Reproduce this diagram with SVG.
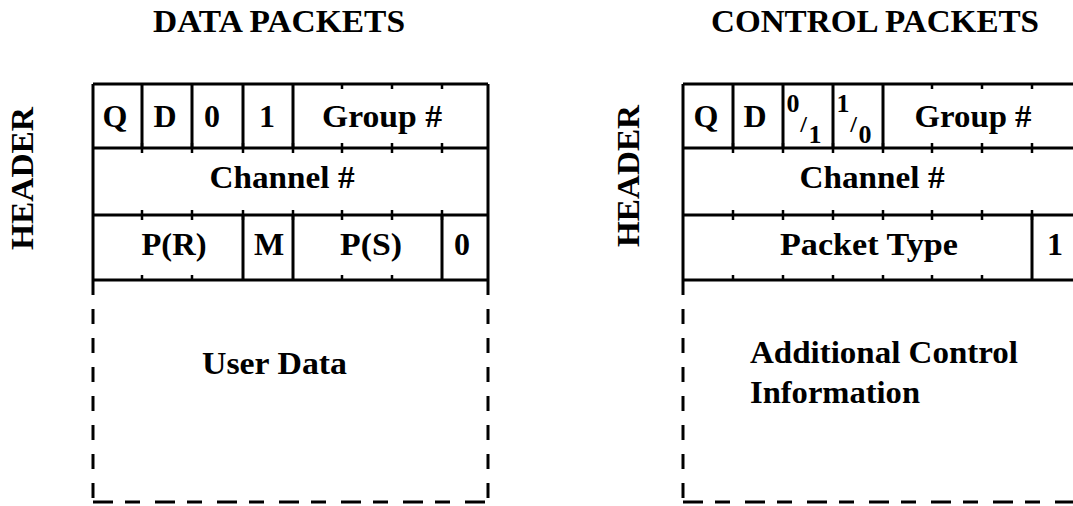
<svg xmlns="http://www.w3.org/2000/svg" width="1073" height="506" viewBox="0 0 1073 506">
<style>
.t{font-family:"Liberation Serif","Times New Roman",serif;font-weight:bold;fill:#000;}
.big{font-size:32px;}
.mid{text-anchor:middle;}
.fr{font-size:26px;text-anchor:middle;}
.sl{font-size:24px;}
.ln{stroke:#000;stroke-width:3;fill:none;}
.tk{stroke:#000;stroke-width:2.5;fill:none;}
.ds{stroke:#000;stroke-width:3;fill:none;stroke-dasharray:15 14;}
</style>
<rect width="1073" height="506" fill="#fff"/>

<g id="data-title">
<text class="t big mid" x="279" y="32" textLength="252" lengthAdjust="spacingAndGlyphs">DATA PACKETS</text>
</g>
<g id="control-title">
<text class="t big mid" x="875" y="32" textLength="328" lengthAdjust="spacingAndGlyphs">CONTROL PACKETS</text>
</g>
<g id="data-header-label">
<text class="t big mid" transform="translate(33,178.5) rotate(-90)" x="0" y="0" textLength="143" lengthAdjust="spacingAndGlyphs">HEADER</text>
</g>
<g id="control-header-label">
<text class="t big mid" transform="translate(639,176) rotate(-90)" x="0" y="0" textLength="142" lengthAdjust="spacingAndGlyphs">HEADER</text>
</g>

<g id="data-packet">
<path class="ln" d="M93,84H488M93,148H488M93,215H488M93,280H488M93,84V280M488,84V280M142,84V148M192,84V148M243,84V148M293,84V148M243,215V280M293,215V280M442,215V280"/>
<path class="tk" d="M342,84V89M392,84V89M442,84V89
M142,143V153M192,143V153M243,143V153M293,143V153M342,143V153M392,143V153M442,143V153
M142,210V220M192,210V220M243,210V220M293,210V220M342,210V220M392,210V220M442,210V220
M142,275V280M192,275V280M342,275V280M392,275V280"/>
<path class="ds" d="M93,280V502"/>
<path class="ds" d="M488,280V502"/>
<path class="ds" d="M93,502H488" style="stroke-dasharray:20 12 15 15"/>
<text class="t big mid" x="115" y="127">Q</text>
<text class="t big mid" x="165" y="127">D</text>
<text class="t big mid" x="212" y="127">0</text>
<text class="t big mid" x="267" y="127">1</text>
<text class="t big mid" x="382" y="127" textLength="120" lengthAdjust="spacingAndGlyphs">Group #</text>
<text class="t big mid" x="282" y="188" textLength="145" lengthAdjust="spacingAndGlyphs">Channel #</text>
<text class="t big mid" x="174" y="255" textLength="65" lengthAdjust="spacingAndGlyphs">P(R)</text>
<text class="t big mid" x="269" y="255">M</text>
<text class="t big mid" x="371" y="255" textLength="62" lengthAdjust="spacingAndGlyphs">P(S)</text>
<text class="t big mid" x="462" y="255">0</text>
<text class="t big" x="202" y="374" textLength="145" lengthAdjust="spacingAndGlyphs">User Data</text>
</g>

<g id="control-packet">
<path class="ln" d="M683,84H1078M683,148H1078M683,215H1078M683,280H1078M683,84V280M1078,84V280M733,84V148M783,84V148M833,84V148M883,84V148M1032,215V280"/>
<path class="tk" d="M932,84V89M982,84V89M1032,84V89
M733,143V153M783,143V153M833,143V153M883,143V153M932,143V153M982,143V153M1032,143V153
M733,210V220M783,210V220M833,210V220M883,210V220M932,210V220M982,210V220M1032,210V220
M733,275V280M783,275V280M833,275V280M883,275V280M932,275V280M982,275V280"/>
<path class="ds" d="M683,280V502"/>
<path class="ds" d="M683,502H1078" style="stroke-dasharray:20 12 15 15"/>
<text class="t big mid" x="706" y="127">Q</text>
<text class="t big mid" x="755" y="127">D</text>
<text class="t fr"><tspan x="793" y="112">0</tspan><tspan class="sl" x="803.5" y="132">/</tspan><tspan x="815" y="143">1</tspan></text>
<text class="t fr"><tspan x="843" y="112">1</tspan><tspan class="sl" x="853.5" y="132">/</tspan><tspan x="865" y="143">0</tspan></text>
<text class="t big mid" x="973" y="127" textLength="117" lengthAdjust="spacingAndGlyphs">Group #</text>
<text class="t big mid" x="872" y="188" textLength="145" lengthAdjust="spacingAndGlyphs">Channel #</text>
<text class="t big mid" x="869" y="255" textLength="178" lengthAdjust="spacingAndGlyphs">Packet Type</text>
<text class="t big mid" x="1055" y="255">1</text>
<text class="t big" x="750" y="363" textLength="268" lengthAdjust="spacingAndGlyphs">Additional Control</text>
<text class="t big" x="750" y="403" textLength="170" lengthAdjust="spacingAndGlyphs">Information</text>
</g>
</svg>
